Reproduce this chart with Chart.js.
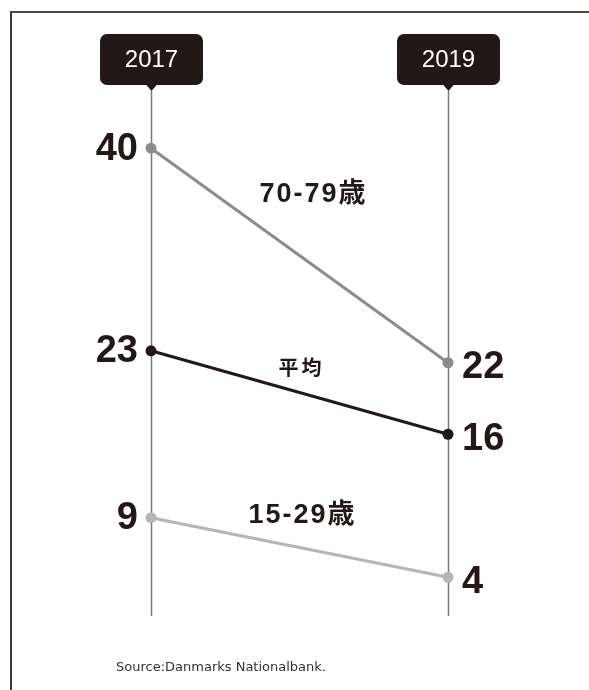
<!DOCTYPE html>
<html>
<head>
<meta charset="utf-8">
<script src="https://cdn.jsdelivr.net/npm/chart.js@4/dist/chart.umd.min.js"></script>
<style>
  html, body { margin: 0; padding: 0; background: #fff; }
  #wrap { position: relative; width: 589px; height: 690px; }
  #frame { position: absolute; left: 10px; top: 11px; right: 0; bottom: 0;
           border-left: 2px solid #3f3a36; border-top: 2px solid #4d4943; }
  #source { position: absolute; left: 116px; top: 659px; font: 13px "DejaVu Sans", sans-serif; color: #333; }
</style>
</head>
<body>
<div id="wrap">
  <div id="frame"></div>
  <canvas id="chart" width="589" height="690"></canvas>
  <div id="source">Source:Danmarks Nationalbank.</div>
</div>
<script>
var years = [2017, 2019];
var seniors = [40, 22];   // 70-79歳
var average = [23, 16];   // 平均
var youth = [9, 4];       // 15-29歳
var seriesNames = ["70-79歳", "平均", "15-29歳"];

var ink = "#231815";

function toPoints(vals) {
    return vals.map((v, i) => ({x: years[i], y: v}));
}

function line(label, vals, color) {
    return {
        label: label,
        data: toPoints(vals),
        borderColor: color,
        backgroundColor: color,
        pointBackgroundColor: color,
        pointBorderWidth: 0,
        borderWidth: 3,
        pointRadius: 5.5,
        clip: false
    };
}

// vertical year guides, the year tags on top, and all text labels
var slopeDecor = {
    id: "slopeDecor",
    beforeDatasetsDraw(chart) {
        var ctx = chart.ctx, area = chart.chartArea, xs = chart.scales.x;
        ctx.save();
        ctx.strokeStyle = "#7a7a7a";
        ctx.lineWidth = 1.5;
        for (var yr of years) {
            var px = Math.round(xs.getPixelForValue(yr)) + 0.5;
            ctx.beginPath();
            ctx.moveTo(px, area.top);
            ctx.lineTo(px, area.bottom);
            ctx.stroke();
        }
        ctx.restore();
    },
    afterDatasetsDraw(chart) {
        var ctx = chart.ctx, xs = chart.scales.x, ys = chart.scales.y;
        ctx.save();

        // year tags
        for (var yr of years) {
            var cx = xs.getPixelForValue(yr) + 0.5;
            var w = 103, top = 34, h = 51;
            ctx.fillStyle = ink;
            ctx.beginPath();
            ctx.roundRect(cx - w / 2, top, w, h, 7);
            ctx.fill();
            ctx.beginPath();
            ctx.moveTo(cx - 6, top + h - 1);
            ctx.lineTo(cx + 6, top + h - 1);
            ctx.lineTo(cx, top + h + 6);
            ctx.closePath();
            ctx.fill();
            ctx.fillStyle = "#fff";
            ctx.font = "24px 'Liberation Sans', Arial, sans-serif";
            ctx.textAlign = "center";
            ctx.textBaseline = "middle";
            ctx.fillText(String(yr), cx, top + h / 2 + 1);
        }

        // end values
        ctx.fillStyle = ink;
        ctx.font = "bold 38px 'Liberation Sans', Arial, sans-serif";
        ctx.textBaseline = "middle";
        chart.data.datasets.forEach((ds) => {
            var p0 = ds.data[0], p1 = ds.data[1];
            ctx.textAlign = "right";
            ctx.fillText(String(p0.y), xs.getPixelForValue(p0.x) - 13, ys.getPixelForValue(p0.y) + 1);
            ctx.textAlign = "left";
            ctx.fillText(String(p1.y), xs.getPixelForValue(p1.x) + 14, ys.getPixelForValue(p1.y) + 5);
        });

        // series names along the lines
        var midX = xs.getPixelForValue((years[0] + years[1]) / 2);
        ctx.textAlign = "center";
        ctx.letterSpacing = "2px";
        ctx.font = "bold 27px 'Liberation Sans', 'Noto Sans CJK JP', sans-serif";
        ctx.fillText(seriesNames[0], midX + 14, ys.getPixelForValue(36.1));
        ctx.fillText(seriesNames[2], midX + 3, ys.getPixelForValue(9.2));
        ctx.letterSpacing = "3px";
        ctx.font = "bold 20px 'Noto Sans CJK JP', sans-serif";
        ctx.fillText(seriesNames[1], midX + 2, ys.getPixelForValue(21.6));
        ctx.restore();
    }
};

new Chart(document.getElementById("chart"), {
    type: "line",
    data: {
        datasets: [
            line(seriesNames[0], seniors, "#8c8c8c"),
            line(seriesNames[1], average, ink),
            line(seriesNames[2], youth, "#b5b5b5")
        ]
    },
    options: {
        responsive: false,
        animation: false,
        layout: { padding: { left: 151, right: 141, top: 91, bottom: 74 } },
        scales: {
            x: { type: "linear", min: 2017, max: 2019, display: false },
            y: { min: 0.75, max: 44.8, display: false }
        },
        plugins: {
            legend: { display: false },
            tooltip: { enabled: false }
        }
    },
    plugins: [slopeDecor]
});
</script>
</body>
</html>
